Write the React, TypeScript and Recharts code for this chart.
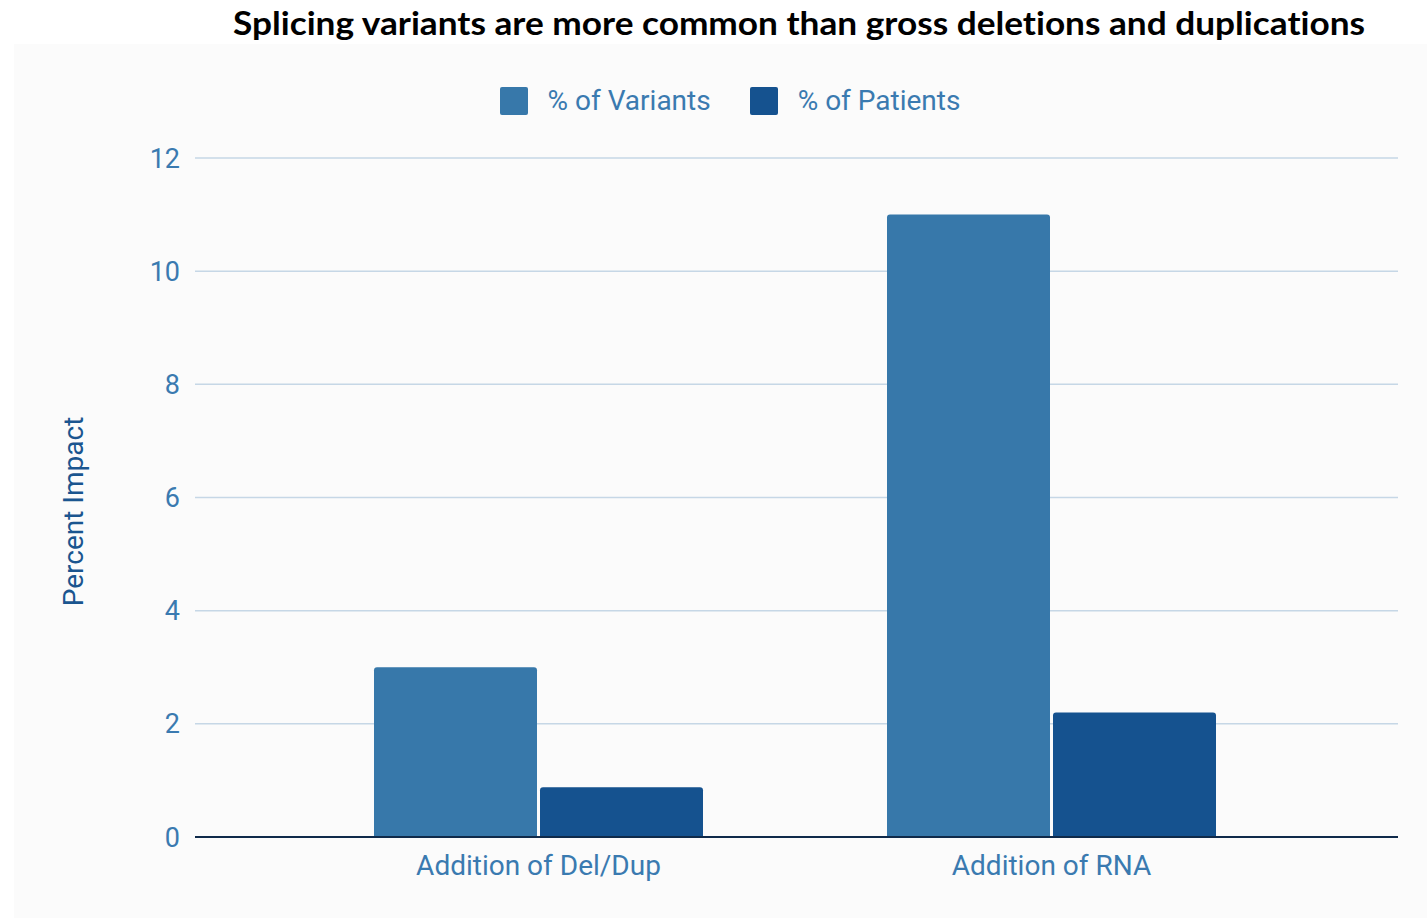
import {
  Bar,
  BarChart,
  CartesianGrid,
  Legend,
  XAxis,
  YAxis,
} from "recharts";

const categories = ["Addition of Del/Dup", "Addition of RNA"];
const variantsPct = [3.0, 11.0];
const patientsPct = [0.88, 2.2];
const yTicks = [0, 2, 4, 6, 8, 10, 12];

const seriesNames = ["% of Variants", "% of Patients"];
const seriesColors = ["#3778aa", "#15528f"];

const data = categories.map((name, i) => ({
  name,
  variants: variantsPct[i],
  patients: patientsPct[i],
}));

const FONT = "Roboto, 'Noto Sans', sans-serif";
const TEXT_BLUE = "#3a7ab0";

function LegendRow() {
  return (
    <div
      style={{
        display: "flex",
        justifyContent: "center",
        alignItems: "center",
        height: 28,
        paddingLeft: 19,
        fontFamily: FONT,
        fontSize: 28,
        color: TEXT_BLUE,
      }}
    >
      {seriesNames.map((label, i) => (
        <div
          key={label}
          style={{ display: "flex", alignItems: "center", marginRight: i === 0 ? 39 : 0 }}
        >
          <span
            style={{
              width: 28,
              height: 28,
              borderRadius: 2,
              background: seriesColors[i],
              marginRight: 20,
              display: "inline-block",
            }}
          />
          <span style={{ lineHeight: "28px" }}>{label}</span>
        </div>
      ))}
    </div>
  );
}

function AxisTitle(props: any) {
  const vb = props.viewBox || { x: 0, y: 0, width: 0, height: 0 };
  const cx = vb.x + 19;
  const cy = vb.y + vb.height / 2 + 14;
  return (
    <text
      x={cx}
      y={cy}
      transform={`rotate(-90, ${cx}, ${cy})`}
      textAnchor="middle"
      dominantBaseline="central"
      fill="#1a558f"
      fontFamily={FONT}
      fontSize={28}
    >
      Percent Impact
    </text>
  );
}

export default function App() {
  return (
    <div
      style={{
        position: "absolute",
        left: 0,
        top: 0,
        width: 1427,
        height: 918,
        background: "#ffffff",
        overflow: "hidden",
      }}
    >
      <svg
        width={1427}
        height={44}
        style={{ position: "absolute", left: 0, top: 0 }}
      >
        <text
          x={233}
          y={35}
          textLength={1132}
          lengthAdjust="spacingAndGlyphs"
          fontFamily="Lato, 'Open Sans', sans-serif"
          fontWeight={700}
          fontSize={33}
          fill="#000000"
          style={{ fontVariantLigatures: "none" }}
        >
          Splicing variants are more common than gross deletions and duplications
        </text>
      </svg>
      <div
        style={{
          position: "absolute",
          left: 14,
          top: 44,
          width: 1413,
          height: 874,
          background: "#fbfbfb",
        }}
      >
        <BarChart
          width={1413}
          height={874}
          data={data}
          margin={{ top: 86, right: 29, left: 40, bottom: 31 }}
          barSize={163}
          barGap={3}
        >
          <CartesianGrid
            vertical={false}
            stroke="#c6d7e6"
            strokeWidth={1.5}
          />
          <XAxis
            dataKey="name"
            padding={{ left: 87, right: 90 }}
            height={50}
            axisLine={{ stroke: "#0f2a4a", strokeWidth: 2 }}
            tickLine={false}
            tickSize={0}
            tickMargin={18}
            tick={{ fill: TEXT_BLUE, fontSize: 28, fontFamily: FONT }}
          />
          <YAxis
            width={141}
            domain={[0, 12]}
            ticks={yTicks}
            axisLine={false}
            tickLine={false}
            tickSize={0}
            tickMargin={15}
            tick={{ fill: TEXT_BLUE, fontSize: 27, fontFamily: FONT }}
            label={{ content: AxisTitle }}
          />
          <Legend
            layout="vertical"
            verticalAlign="top"
            align="center"
            content={() => <LegendRow />}
            wrapperStyle={{ top: 43, left: 0, width: 1413 }}
          />
          <Bar
            dataKey="variants"
            name={seriesNames[0]}
            fill={seriesColors[0]}
            radius={[3, 3, 0, 0]}
            isAnimationActive={false}
          />
          <Bar
            dataKey="patients"
            name={seriesNames[1]}
            fill={seriesColors[1]}
            radius={[3, 3, 0, 0]}
            isAnimationActive={false}
          />
        </BarChart>
      </div>
    </div>
  );
}
